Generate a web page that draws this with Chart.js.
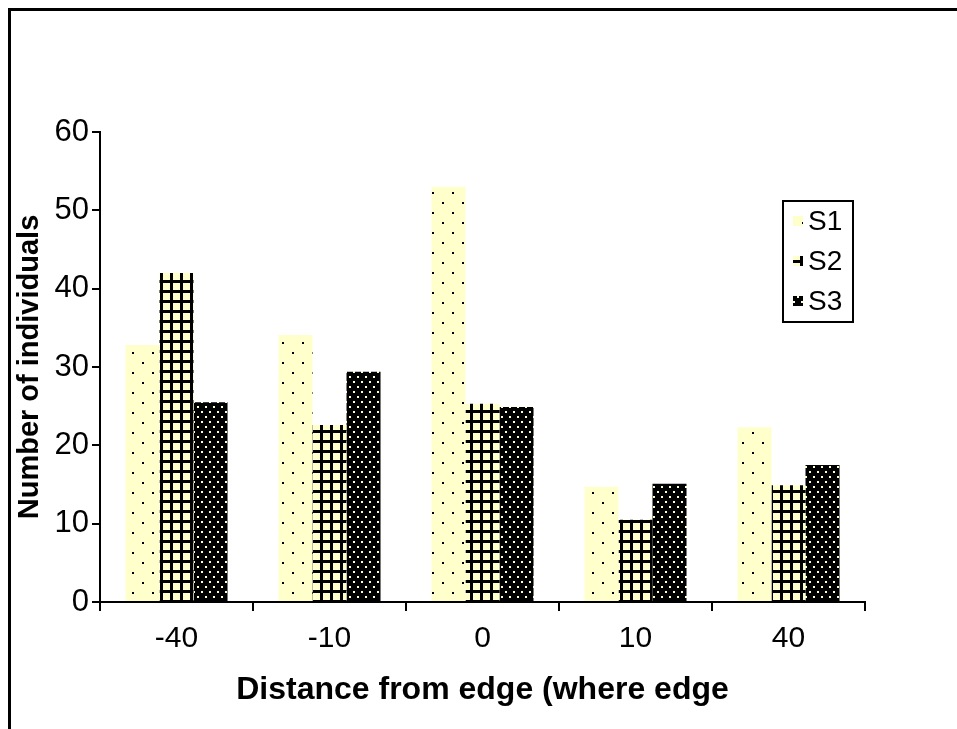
<!DOCTYPE html>
<html>
<head>
<meta charset="utf-8">
<script src="https://cdn.jsdelivr.net/npm/chart.js@4/dist/chart.umd.min.js"></script>
<style>
  html, body { margin:0; padding:0; background:#fff; }
  #wrap { position:relative; width:957px; height:729px; overflow:hidden; }
  #frame { position:absolute; left:8px; top:8px; width:1000px; height:800px; border-left:3px solid #000; border-top:3px solid #000; }
  canvas { position:absolute; left:0; top:0; }
</style>
</head>
<body>
<div id="wrap">
  <div id="frame"></div>
  <canvas id="c" width="957" height="729"></canvas>
</div>
<script>
const categories = ['-40', '-10', '0', '10', '40'];
const seriesNames = ['S1', 'S2', 'S3'];
const s1Values = [32.8, 34.1, 53.0, 14.7, 22.3];
const s2Values = [42.0, 22.6, 25.3, 10.5, 14.9];
const s3Values = [25.5, 29.4, 24.9, 15.1, 17.5];
const yTicksMax = 60;
const yTickStep = 10;

const FONT = "'Liberation Sans', Arial, sans-serif";
const YELLOW = '#FFFFCC';

function makePattern(w, h, bg, draw) {
  const c = document.createElement('canvas');
  c.width = w; c.height = h;
  const x = c.getContext('2d');
  x.fillStyle = bg; x.fillRect(0, 0, w, h);
  draw(x);
  return x.createPattern(c, 'repeat');
}
const pat1 = makePattern(20, 20, YELLOW, x => {
  x.fillStyle = '#000';
  x.fillRect(2, 2, 2, 2);
  x.fillRect(12, 12, 2, 2);
});
const pat2 = makePattern(10, 10, YELLOW, x => {
  x.fillStyle = '#000';
  x.fillRect(0, 0, 3, 10);
  x.fillRect(0, 0, 10, 3);
});
const pat3 = makePattern(8, 10, '#000', x => {
  x.fillStyle = YELLOW;
  x.fillRect(1, 1, 2, 2);
  x.fillRect(5, 6, 2, 2);
});

const legendPlugin = {
  id: 'boxLegend',
  afterDraw(chart) {
    const ctx = chart.ctx;
    const bx = 783, by = 201, bw = 70, bh = 121;
    ctx.save();
    ctx.fillStyle = '#fff';
    ctx.fillRect(bx, by, bw, bh);
    ctx.strokeStyle = '#000';
    ctx.lineWidth = 2;
    ctx.strokeRect(bx, by, bw, bh);
    ctx.font = '28px ' + FONT;
    ctx.textBaseline = 'middle';
    ctx.textAlign = 'left';
    chart.data.datasets.forEach((ds, i) => {
      const cy = by + 20 + i * 40;
      ctx.fillStyle = ds.backgroundColor;
      ctx.fillRect(bx + 10, cy - 5, 10, 10);
      ctx.fillStyle = '#000';
      ctx.fillText(ds.label, bx + 25, cy + 1);
    });
    ctx.restore();
  }
};

new Chart(document.getElementById('c'), {
  type: 'bar',
  data: {
    labels: categories,
    datasets: [
      { label: seriesNames[0], data: s1Values, backgroundColor: pat1 },
      { label: seriesNames[1], data: s2Values, backgroundColor: pat2 },
      { label: seriesNames[2], data: s3Values, backgroundColor: pat3 }
    ]
  },
  options: {
    responsive: false,
    animation: false,
    devicePixelRatio: 1,
    layout: { padding: { top: 132, right: 92, left: 0, bottom: 0 } },
    datasets: { bar: { categoryPercentage: 0.667, barPercentage: 1.0, borderWidth: 0 } },
    plugins: { legend: { display: false }, tooltip: { enabled: false } },
    scales: {
      x: {
        grid: { offset: true, drawOnChartArea: false, drawTicks: true, tickLength: 9, color: '#000', lineWidth: 2 },
        border: { color: '#000', width: 2 },
        ticks: { color: '#000', font: { family: FONT, size: 30 }, padding: 10 },
        title: { display: true, text: 'Distance from edge (where edge', color: '#000',
                 font: { family: FONT, size: 32, weight: 'bold' }, padding: { top: 20, bottom: 20 } },
        afterFit(s) { s.height = 127; }
      },
      y: {
        min: 0, max: yTicksMax,
        grid: { drawOnChartArea: false, drawTicks: true, tickLength: 8, color: '#000', lineWidth: 2 },
        border: { color: '#000', width: 2 },
        ticks: { stepSize: yTickStep, color: '#000', font: { family: FONT, size: 31 }, padding: 3 },
        title: { display: true, text: 'Number of individuals', color: '#000',
                 font: { family: FONT, size: 29, weight: 'bold' }, padding: { top: 13, bottom: 13 } },
        afterFit(s) { s.width = 100; }
      }
    }
  },
  plugins: [legendPlugin]
});
</script>
</body>
</html>
